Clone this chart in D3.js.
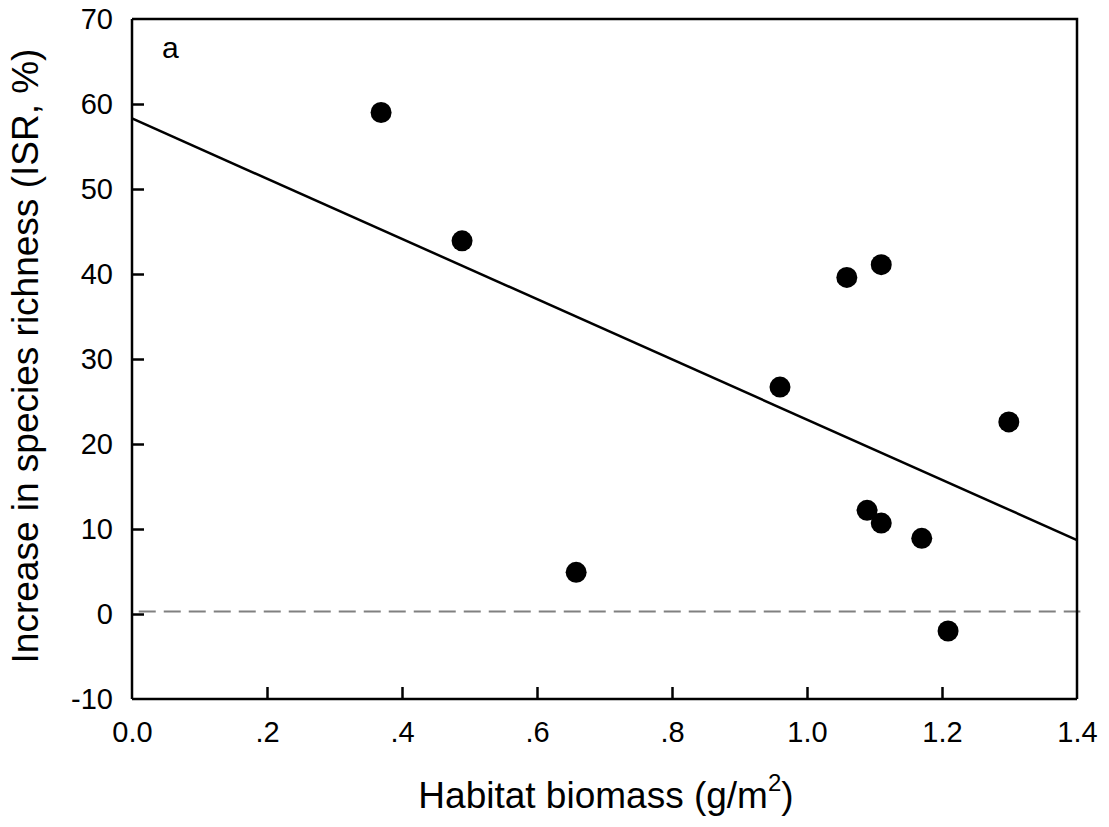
<!DOCTYPE html>
<html>
<head>
<meta charset="utf-8">
<script src="https://cdn.jsdelivr.net/npm/d3@7"></script>
<style>
  html, body { margin: 0; padding: 0; background: #fff; }
  svg { display: block; font-family: Arial, "Liberation Sans", sans-serif; }
</style>
</head>
<body>
<svg id="chart" width="1109" height="827"></svg>
<script>
// Data
const biomass = [0.369, 0.489, 0.658, 0.960, 1.059, 1.110, 1.089, 1.110, 1.170, 1.209, 1.299];
const isr     = [59.0, 43.9, 4.9, 26.7, 39.6, 41.1, 12.2, 10.7, 8.9, -2.0, 22.6];
const fitX = [0.0, 1.4];
const fitY = [58.3, 8.7];
const refX = [0.01, 1.405];
const refY = [0.3, 0.3];
const xTicks = [0.0, 0.2, 0.4, 0.6, 0.8, 1.0, 1.2, 1.4];
const xTickLabels = ["0.0", ".2", ".4", ".6", ".8", "1.0", "1.2", "1.4"];
const yTicks = [-10, 0, 10, 20, 30, 40, 50, 60, 70];
const panelLabel = "a";

const svg = d3.select("#chart");
const m = { left: 132, right: 1077, top: 19, bottom: 699 };
const FONT = "Arial, 'Liberation Sans', sans-serif";

const x = d3.scaleLinear().domain([0, 1.4]).range([m.left, m.right]);
const y = d3.scaleLinear().domain([-10, 70]).range([m.bottom, m.top]);

// Reference dashed line
svg.append("line")
  .attr("x1", x(refX[0])).attr("x2", x(refX[1]))
  .attr("y1", y(refY[0])).attr("y2", y(refY[1]))
  .attr("stroke", "#808080").attr("stroke-width", 2)
  .attr("stroke-dasharray", "17,8");

// Frame (top and right)
svg.append("path")
  .attr("d", `M${m.left},${m.top}H${m.right}V${m.bottom}`)
  .attr("fill", "none").attr("stroke", "#000").attr("stroke-width", 2.5);

// Axes
const xAxis = d3.axisBottom(x).tickValues(xTicks)
  .tickFormat((d, i) => xTickLabels[i]).tickSizeInner(-12).tickSizeOuter(0).tickPadding(22);
const gx = svg.append("g").attr("transform", `translate(0,${m.bottom})`).call(xAxis);
gx.select(".domain").attr("stroke-width", 2.5).attr("d", `M${m.left},0H${m.right}`);
gx.selectAll(".tick line").attr("stroke-width", 2.5);
gx.selectAll(".tick").filter((d, i) => i === 0 || i === xTicks.length - 1).select("line").remove();
gx.selectAll("text").attr("font-size", 29).attr("fill", "#000").attr("font-family", FONT);

const yAxis = d3.axisLeft(y).tickValues(yTicks).tickFormat(d => String(d))
  .tickSizeInner(-12).tickSizeOuter(0).tickPadding(19);
const gy = svg.append("g").attr("transform", `translate(${m.left},0)`).call(yAxis);
gy.select(".domain").attr("stroke-width", 2.5).attr("d", `M0,${m.top}V${m.bottom}`);
gy.selectAll(".tick line").attr("stroke-width", 2.5);
gy.selectAll(".tick").filter(d => d === -10 || d === 70).select("line").remove();
gy.selectAll("text").attr("font-size", 29).attr("fill", "#000").attr("font-family", FONT);

// Regression line
svg.append("line")
  .attr("x1", x(fitX[0])).attr("y1", y(fitY[0]))
  .attr("x2", x(fitX[1])).attr("y2", y(fitY[1]))
  .attr("stroke", "#000").attr("stroke-width", 2.5);

// Points
svg.append("g").selectAll("circle")
  .data(biomass.map((b, i) => [b, isr[i]]))
  .join("circle")
  .attr("cx", d => x(d[0])).attr("cy", d => y(d[1]))
  .attr("r", 10.5).attr("fill", "#000");

// Panel label
svg.append("text").attr("x", 162).attr("y", 58)
  .attr("font-size", 30).attr("font-family", FONT).text(panelLabel);

// Axis titles
const xt = svg.append("text").attr("x", 606).attr("y", 808)
  .attr("text-anchor", "middle").attr("font-size", 37).attr("font-family", FONT);
xt.append("tspan").text("Habitat biomass (g/m");
xt.append("tspan").attr("font-size", 24).attr("dy", -17).text("2");
xt.append("tspan").attr("dy", 17).text(")");

svg.append("text")
  .attr("transform", "translate(38,356) rotate(-90)")
  .attr("text-anchor", "middle").attr("font-size", 37).attr("font-family", FONT)
  .text("Increase in species richness (ISR, %)");
</script>
</body>
</html>
